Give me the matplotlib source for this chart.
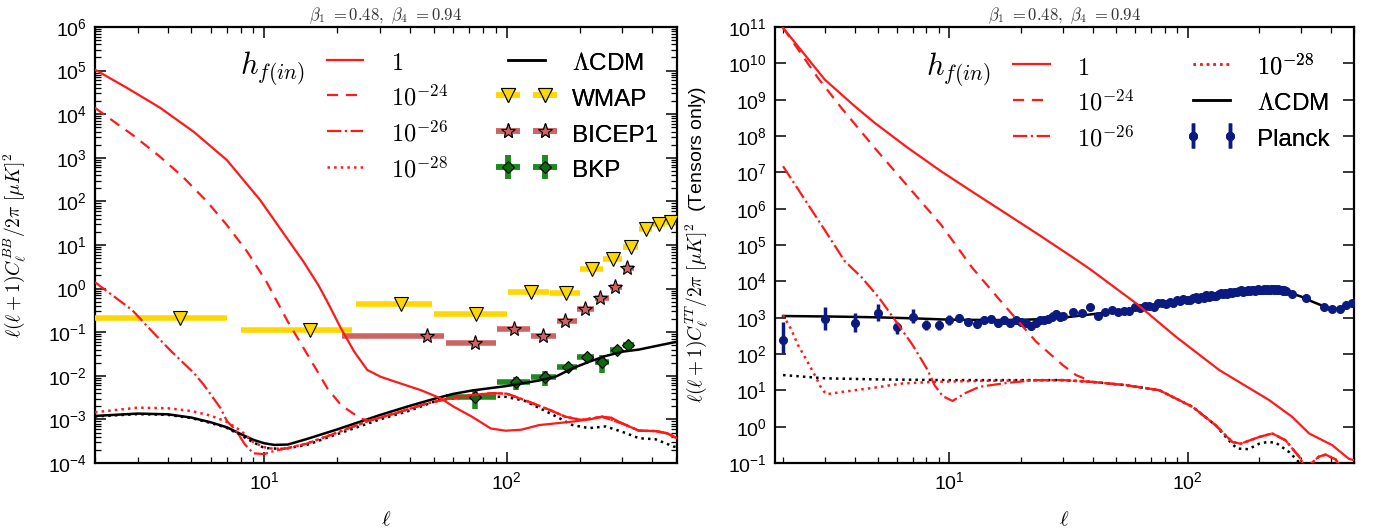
import numpy as np
import matplotlib
matplotlib.use('Agg')
import matplotlib.pyplot as plt
from matplotlib.ticker import LogLocator, FuncFormatter, NullLocator, NullFormatter

plt.rcParams['font.family'] = ['Liberation Sans', 'DejaVu Sans']
plt.rcParams['mathtext.fontset'] = 'cm'

# ---------------- left panel data (BB) ----------------
ell_bb_lcdm = [2, 3, 4, 5, 6, 7, 8, 9, 10, 11, 12.5, 15, 20, 30, 40, 50, 60, 72, 100, 136, 159, 187, 219, 256, 300, 352, 412, 505]
bb_lcdm = [1.2e-3, 1.36e-3, 1.31e-3, 1.1e-3, 8.6e-4, 6.6e-4, 4.6e-4, 3.4e-4, 2.83e-4, 2.6e-4, 2.65e-4, 3.56e-4,
           5.9e-4, 1.26e-3, 2.06e-3, 2.94e-3, 3.83e-3, 4.6e-3, 5.83e-3, 7.8e-3, 9.5e-3, 1.48e-2, 2.1e-2, 2.84e-2,
           3.57e-2, 4.0e-2, 4.8e-2, 6.05e-2]

ell_bb_lcdm_t = [2, 3, 4, 5, 6, 7, 8, 9, 10, 12, 15, 20, 30, 40, 52.5, 72, 99, 118, 151, 187, 219, 256, 300, 352, 412, 488, 505]
bb_lcdm_t = [1.17e-3, 1.32e-3, 1.27e-3, 1.07e-3, 8.3e-4, 6.4e-4, 4.3e-4, 3.0e-4, 2.2e-4, 2.1e-4, 2.6e-4, 4.6e-4,
             1.0e-3, 1.6e-3, 2.8e-3, 3.3e-3, 3.3e-3, 2.7e-3, 1.38e-3, 7.4e-4, 6.3e-4, 6.9e-4, 5.2e-4, 3.7e-4,
             3.5e-4, 2.4e-4, 2.3e-4]

ell_bb_h0 = [2, 2.7, 3.71, 5.1, 7, 9.6, 12, 14.5, 16.7, 18.2, 20.7, 23.5, 26.6, 30.2, 36.4, 44.2, 53.4, 60.5,
             72, 86, 99, 115, 136, 187, 220, 248, 270, 300, 352, 412, 460, 505]
bb_h0 = [1.05e5, 4.06e4, 1.41e4, 3.98e3, 890, 108, 18.5, 4.15, 1.21, 0.5, 0.123, 0.0358, 0.0136, 9.5e-3,
         6.7e-3, 4.7e-3, 3.05e-3, 1.95e-3, 1.15e-3, 6.2e-4, 5.5e-4, 5.8e-4, 7.4e-4, 8.9e-4, 1.0e-3, 1.15e-3,
         1.1e-3, 8.1e-4, 5.5e-4, 5.4e-4, 4.8e-4, 3.7e-4]

ell_bb_h24 = [2, 2.4, 2.87, 3.71, 4.6, 5.8, 7, 8.5, 10.2, 12.5, 15.1, 18.2, 20.7, 22.7, 25, 27, 30, 34.7, 47,
              58, 72, 87, 100, 118, 151, 175, 204, 248, 300, 352, 412, 460, 505]
bb_h24 = [1.4e4, 6.7e3, 3.3e3, 1.06e3, 369, 99, 28.8, 7.0, 1.44, 0.175, 0.03, 5.2e-3, 2.14e-3, 1.5e-3,
          1.05e-3, 9.3e-4, 1.1e-3, 1.38e-3, 2.34e-3, 3.0e-3, 3.6e-3, 4.0e-3, 3.9e-3, 2.8e-3, 1.64e-3,
          1.15e-3, 9.7e-4, 1.15e-3, 8.1e-4, 5.5e-4, 5.4e-4, 4.8e-4, 3.7e-4]

ell_bb_h26 = [2, 2.85, 3.4, 4.1, 5.1, 5.6, 6.6, 7, 7.7, 8.3, 9, 10, 11, 12.5, 15, 20, 27, 30, 34.7, 47, 58,
              72, 87, 100, 118, 151, 175, 204, 248, 300, 352, 412, 460, 505]
bb_h26 = [1.4, 0.32, 0.112, 0.0378, 0.0118, 6.4e-3, 1.8e-3, 9.3e-4, 5.2e-4, 2.7e-4, 1.67e-4, 1.6e-4, 1.9e-4,
          2.2e-4, 2.8e-4, 5.0e-4, 9.3e-4, 1.1e-3, 1.38e-3, 2.34e-3, 3.0e-3, 3.6e-3, 4.0e-3, 3.9e-3, 2.8e-3,
          1.64e-3, 1.15e-3, 9.7e-4, 1.15e-3, 8.1e-4, 5.5e-4, 5.4e-4, 4.8e-4, 3.7e-4]

ell_bb_h28 = [2, 3, 4, 5, 6, 7, 8, 9, 10, 11, 12.5, 15, 20, 27, 30, 34.7, 47, 58, 72, 87, 100, 118, 151, 175,
              204, 248, 300, 352, 412, 460, 505]
bb_h28 = [1.46e-3, 1.86e-3, 1.8e-3, 1.56e-3, 1.22e-3, 8.8e-4, 5.5e-4, 3.0e-4, 2.3e-4, 2.1e-4, 2.2e-4, 2.8e-4,
          5.0e-4, 9.3e-4, 1.1e-3, 1.38e-3, 2.34e-3, 3.0e-3, 3.6e-3, 4.0e-3, 3.9e-3, 2.8e-3, 1.64e-3, 1.15e-3,
          9.7e-4, 1.15e-3, 8.1e-4, 5.5e-4, 5.4e-4, 4.8e-4, 3.7e-4]

# WMAP upper limits
wmap_ell = [4.5, 15.5, 36.5, 75, 125.5, 175.5, 225.5, 275.5, 325.5, 375.5, 425.5, 475.5]
wmap_lo = [2, 8, 24, 50, 101, 151, 201, 251, 301, 351, 401, 451]
wmap_hi = [7, 23, 49, 100, 150, 200, 250, 300, 350, 400, 450, 500]
wmap_val = [0.217, 0.115, 0.44, 0.257, 0.82, 0.79, 2.86, 4.77, 9.1, 22.9, 30, 34]

# BICEP1
bicep_ell = [47, 74, 107.5, 141, 175, 210, 244, 279, 315]
bicep_lo = [21, 56, 91, 126, 161, 196, 231, 266, 301]
bicep_hi = [55, 90, 125, 160, 195, 230, 265, 300, 335]
bicep_val = [0.084, 0.0556, 0.12, 0.0805, 0.18, 0.335, 0.6, 1.07, 2.92]

# BKP
bkp_ell = [74, 109.5, 144, 180, 214, 248, 285, 318]
bkp_lo = [56, 91, 126, 161, 196, 231, 266, 301]
bkp_hi = [90, 125, 160, 195, 230, 265, 300, 335]
bkp_val = [0.00332, 0.0071, 0.00925, 0.0162, 0.0265, 0.021, 0.039, 0.0516]
bkp_err = [0.0016, 0.0023, 0.0035, 0.0025, 0.004, 0.0095, 0.006, 0.009]

# ---------------- right panel data (TT) ----------------
ell_tt_lcdm = [2, 3, 4, 5, 7, 10, 15, 20, 25, 30, 40, 55, 76, 105, 145, 175, 200, 220, 242, 258, 275, 300,
               334, 374, 405, 437, 465, 500]
tt_lcdm = [1110, 1080, 1050, 1020, 960, 880, 860, 870, 920, 1000, 1250, 1600, 2400, 3350, 4800, 5500, 5900,
           6000, 5900, 5400, 4600, 3800, 2760, 2050, 1750, 1750, 2100, 2550]

ell_tt_lcdm_t = [2, 3, 4.9, 10, 30, 40, 55, 76, 105, 131, 154, 162, 180, 200, 217, 235, 267, 285, 310]
tt_lcdm_t = [26.3, 21.4, 20, 19.1, 19.1, 17, 13.9, 10.1, 3.5, 1.1, 0.33, 0.25, 0.24, 0.34, 0.38, 0.36, 0.2,
             0.13, 0.07]

ell_tt_h0 = [2, 2.99, 4.0, 4.85, 6.69, 9.22, 12.7, 17.6, 24.3, 33.4, 39.3, 60.7, 89.3, 136, 220, 275, 324,
             405, 476, 500]
tt_h0 = [9.5e10, 3.6e9, 6.6e8, 2.3e8, 4.7e7, 1.07e7, 2.7e6, 6.8e5, 1.72e5, 4.3e4, 2.07e4, 2.5e3, 299, 36,
         5.4, 1.86, 0.65, 0.31, 0.13, 0.12]

# shared tail of the tensor curves (l > ~40)
ell_tt_tail = [55, 76, 105, 131, 154, 167, 200, 227, 258, 294, 313, 356, 380, 419, 450]
tt_tail = [13.9, 10.1, 3.5, 1.1, 0.38, 0.34, 0.52, 0.65, 0.42, 0.15, 0.07, 0.15, 0.17, 0.125, 0.06]

ell_tt_h24 = [2, 2.8, 3.51, 4.85, 6.69, 9.22, 12.5, 16.7, 23.1, 29.9, 34, 40]
tt_h24 = [9.5e10, 4.0e9, 6e8, 4.7e7, 4.1e6, 3.6e5, 2.3e4, 2.5e3, 219, 49.5, 26.3, 17]

ell_tt_h26 = [2, 2.55, 2.99, 3.63, 4.27, 5.08, 5.97, 7.0, 8.1, 8.65, 9.37, 10.3, 11.7, 13.4, 17.6, 23.1, 30, 40]
tt_h26 = [1.47e7, 1.28e6, 2.6e5, 3.6e4, 1.3e4, 3.4e3, 780, 177, 36, 13.9, 6.9, 5.1, 8.5, 12.6, 16.1, 19.1,
          19.1, 17]

ell_tt_h28 = [2, 2.17, 2.31, 2.51, 2.72, 2.9, 3.04, 3.57, 4.9, 6.37, 8.8, 14.2, 30, 40]
tt_h28 = [1.19e3, 457, 177, 68, 26, 11.2, 7.8, 9.1, 12, 15.5, 17.2, 18.3, 19.1, 17]

# Planck TT
planck_lo_ell = list(range(2, 30))
planck_lo_val = [243, 903, 701, 1374, 543, 1070, 630, 630, 865, 962, 776, 670, 865, 903, 701, 865, 701, 865,
                 776, 701, 603, 728, 836, 865, 903, 1070, 1240, 1070]
planck_lo_errm = [139, 446, 290, 548, 188, 343, 173, 173, 235, 210, 170, 150, 190, 200, 155, 190, 155, 190,
                  170, 155, 135, 160, 185, 190, 200, 235, 270, 235]
planck_lo_errp = [533, 1030, 617, 966, 233, 630, 235, 235, 321, 290, 230, 200, 260, 270, 210, 260, 210, 260,
                  230, 210, 180, 220, 250, 260, 270, 320, 370, 320]
planck_hi_ell = list(range(30, 259, 3))
planck_hi_val = [1080, 1400, 1310, 1950, 1140, 1430, 1590, 1410, 1500, 1490,
                 1950, 1790, 2080, 2050, 2010, 2490, 2590, 2410, 2650, 2480,
                 3120, 2790, 3190, 3040, 3090, 3420, 3720, 3340, 3650, 3450,
                 4150, 3800, 4260, 4050, 3960, 4500, 4780, 4400, 4700, 4600,
                 5200, 4850, 5250, 5000, 4950, 5400, 5650, 5250, 5500, 5300,
                 5850, 5500, 5900, 5650, 5550, 5950, 6150, 5800, 5950, 5750,
                 6250, 5850, 6200, 5950, 5850, 6150, 6300, 5900, 6000, 5800,
                 6150, 5800, 5950, 5650, 5500, 5650, 5500]
planck_sp_ell = [275, 313, 374, 405, 437, 461, 492]
planck_sp_val = [4500, 3400, 2000, 1700, 1750, 2200, 2500]

# ---------------- figure ----------------
W, H = 1387, 529
fig = plt.figure(figsize=(W / 100, H / 100), dpi=100)
axL = fig.add_axes([95 / W, 66 / H, 582 / W, 436 / H])
axR = fig.add_axes([775 / W, 66 / H, 579 / W, 436 / H])

RED = '#ff1a1a'
GOLD = '#FFD700'
ROSE = '#CD6464'
GREEN = '#1f8a1f'
NAVY = '#0b1a80'


def logfmt(v, pos):
    e = int(round(np.log10(v)))
    return r'$\mathregular{10^{%d}}$' % e


def style(ax, xlim, ylim, yminor):
    ax.set_xscale('log')
    ax.set_yscale('log')
    ax.set_xlim(*xlim)
    ax.set_ylim(*ylim)
    ax.xaxis.set_major_locator(LogLocator(base=10, numticks=20))
    ax.xaxis.set_minor_locator(LogLocator(base=10, subs=np.arange(2, 10), numticks=50))
    ax.xaxis.set_major_formatter(FuncFormatter(logfmt))
    ax.xaxis.set_minor_formatter(NullFormatter())
    ax.yaxis.set_major_locator(LogLocator(base=10, numticks=30))
    if yminor:
        ax.yaxis.set_minor_locator(LogLocator(base=10, subs=np.arange(2, 10), numticks=100))
    else:
        ax.yaxis.set_minor_locator(NullLocator())
    ax.yaxis.set_major_formatter(FuncFormatter(logfmt))
    ax.yaxis.set_minor_formatter(NullFormatter())
    ax.tick_params(which='both', direction='in', top=True, right=True, labelsize=14)
    ax.tick_params(which='major', length=8, width=1.1, pad=6)
    ax.tick_params(which='minor', length=4, width=0.9)
    for s in ax.spines.values():
        s.set_linewidth(1.6)
    ax.set_xlabel(r'$\ell$', fontsize=15, labelpad=12)
    ax.set_title(r'$\beta_1\ {=}0.48,\ \beta_4\ {=}0.94$', fontsize=12, pad=5, color='#333333')


# ---- left ----
ax = axL
ax.errorbar(wmap_ell, wmap_val,
            xerr=[np.subtract(wmap_ell, wmap_lo), np.subtract(wmap_hi, wmap_ell)],
            fmt='v', color=GOLD, mfc=GOLD, mec='k', mew=0.8, ms=10, ecolor=GOLD, elinewidth=4,
            capsize=0, zorder=3, label='WMAP')
ax.errorbar(bicep_ell, bicep_val,
            xerr=[np.subtract(bicep_ell, bicep_lo), np.subtract(bicep_hi, bicep_ell)],
            fmt='*', color=ROSE, mfc=ROSE, mec='k', mew=0.8, ms=11, ecolor=ROSE, elinewidth=4,
            capsize=0, zorder=3, label='BICEP1')
ax.errorbar(bkp_ell, bkp_val, yerr=bkp_err,
            xerr=[np.subtract(bkp_ell, bkp_lo), np.subtract(bkp_hi, bkp_ell)],
            fmt='D', color=GREEN, mfc='#0d6b0d', mec='k', mew=0.8, ms=6.5, ecolor=GREEN, elinewidth=4,
            capsize=0, zorder=3, label='BKP')
ax.plot(ell_bb_lcdm_t, bb_lcdm_t, color='k', ls=':', lw=1.8, zorder=2)
ax.plot(ell_bb_lcdm, bb_lcdm, color='k', ls='-', lw=1.8, zorder=4, label=r'$\Lambda$CDM')
ax.plot(ell_bb_h28, bb_h28, color=RED, ls=':', lw=1.8, zorder=4, label=r'$10^{-28}$')
ax.plot(ell_bb_h26, bb_h26, color=RED, ls='-.', lw=1.6, zorder=4, label=r'$10^{-26}$')
ax.plot(ell_bb_h24, bb_h24, color=RED, ls=(0, (5, 3.5)), lw=1.6, zorder=4, label=r'$10^{-24}$')
ax.plot(ell_bb_h0, bb_h0, color=RED, ls='-', lw=1.6, zorder=4, label=r'$1$')
style(ax, (2, 505), (1e-4, 1e6), True)
ax.set_ylabel(r'$\ell(\ell+1)C_\ell^{BB}/2\pi\ [\mu K]^2$', fontsize=14)
ax.yaxis.set_label_coords(-0.115, 0.5)

h, l = ax.get_legend_handles_labels()
d = dict(zip(l, h))
kw = dict(loc='upper left', frameon=False, fontsize=17.5, numpoints=2, handlelength=2.11,
          handleheight=1.25, handletextpad=0.82, labelspacing=0.4, borderpad=0, borderaxespad=0,
          bbox_transform=fig.transFigure)
col1 = [r'$1$', r'$10^{-24}$', r'$10^{-26}$', r'$10^{-28}$']
col2 = [r'$\Lambda$CDM', 'WMAP', 'BICEP1', 'BKP']
lg1 = ax.legend([d[k] for k in col1], col1, bbox_to_anchor=(319.4 / W, 1 - 49 / H), **kw)
ax.add_artist(lg1)
lg2 = ax.legend([d[k] for k in col2], col2, bbox_to_anchor=(501 / W, 1 - 49 / H), **kw)
ax.add_artist(lg2)
fig.text(272 / W, 1 - 68 / H, r'$h_{f(in)}$', fontsize=22, ha='center', va='center')

# ---- right ----
ax = axR
ax.plot(ell_tt_lcdm, tt_lcdm, color='k', ls='-', lw=1.8, zorder=2, label=r'$\Lambda$CDM')
pl = ax.errorbar(planck_lo_ell, planck_lo_val, yerr=[planck_lo_errm, planck_lo_errp],
                 fmt='o', color=NAVY, ms=5.5, ecolor=NAVY, elinewidth=2.5, capsize=0, zorder=3,
                 label='Planck')
ax.plot(planck_hi_ell, planck_hi_val, 'o', color=NAVY, ms=5.5, zorder=3)
ax.plot(planck_sp_ell, planck_sp_val, 'o', color=NAVY, ms=5.5, zorder=3)
ax.plot(ell_tt_lcdm_t, tt_lcdm_t, color='k', ls=':', lw=1.8, zorder=4)
ax.plot(ell_tt_h28 + ell_tt_tail, tt_h28 + tt_tail, color=RED, ls=':', lw=1.8, zorder=5, label=r'$10^{-28}$')
ax.plot(ell_tt_h26 + ell_tt_tail, tt_h26 + tt_tail, color=RED, ls='-.', lw=1.6, zorder=5, label=r'$10^{-26}$')
ax.plot(ell_tt_h24 + ell_tt_tail, tt_h24 + tt_tail, color=RED, ls=(0, (5, 3.5)), lw=1.6, zorder=5,
        label=r'$10^{-24}$')
ax.plot(ell_tt_h0, tt_h0, color=RED, ls='-', lw=1.6, zorder=5, label=r'$1$')
style(ax, (1.85, 500), (1e-1, 1e11), False)
ax.set_ylabel(r'$\ell(\ell+1)C_\ell^{TT}/2\pi\ [\mu K]^2$  (Tensors only)', fontsize=14)
ax.yaxis.set_label_coords(-0.112, 0.5)

h, l = ax.get_legend_handles_labels()
d = dict(zip(l, h))
col1 = [r'$1$', r'$10^{-24}$', r'$10^{-26}$']
col2 = [r'$10^{-28}$', r'$\Lambda$CDM', 'Planck']
lg3 = ax.legend([d[k] for k in col1], col1, bbox_to_anchor=(1006 / W, 1 - 53.5 / H), **kw)
ax.add_artist(lg3)
lg4 = ax.legend([d[k] for k in col2], col2, bbox_to_anchor=(1186 / W, 1 - 53.5 / H), **kw)
ax.add_artist(lg4)
fig.text(958 / W, 1 - 69 / H, r'$h_{f(in)}$', fontsize=22, ha='center', va='center')

fig.savefig('out.png', dpi=100)
